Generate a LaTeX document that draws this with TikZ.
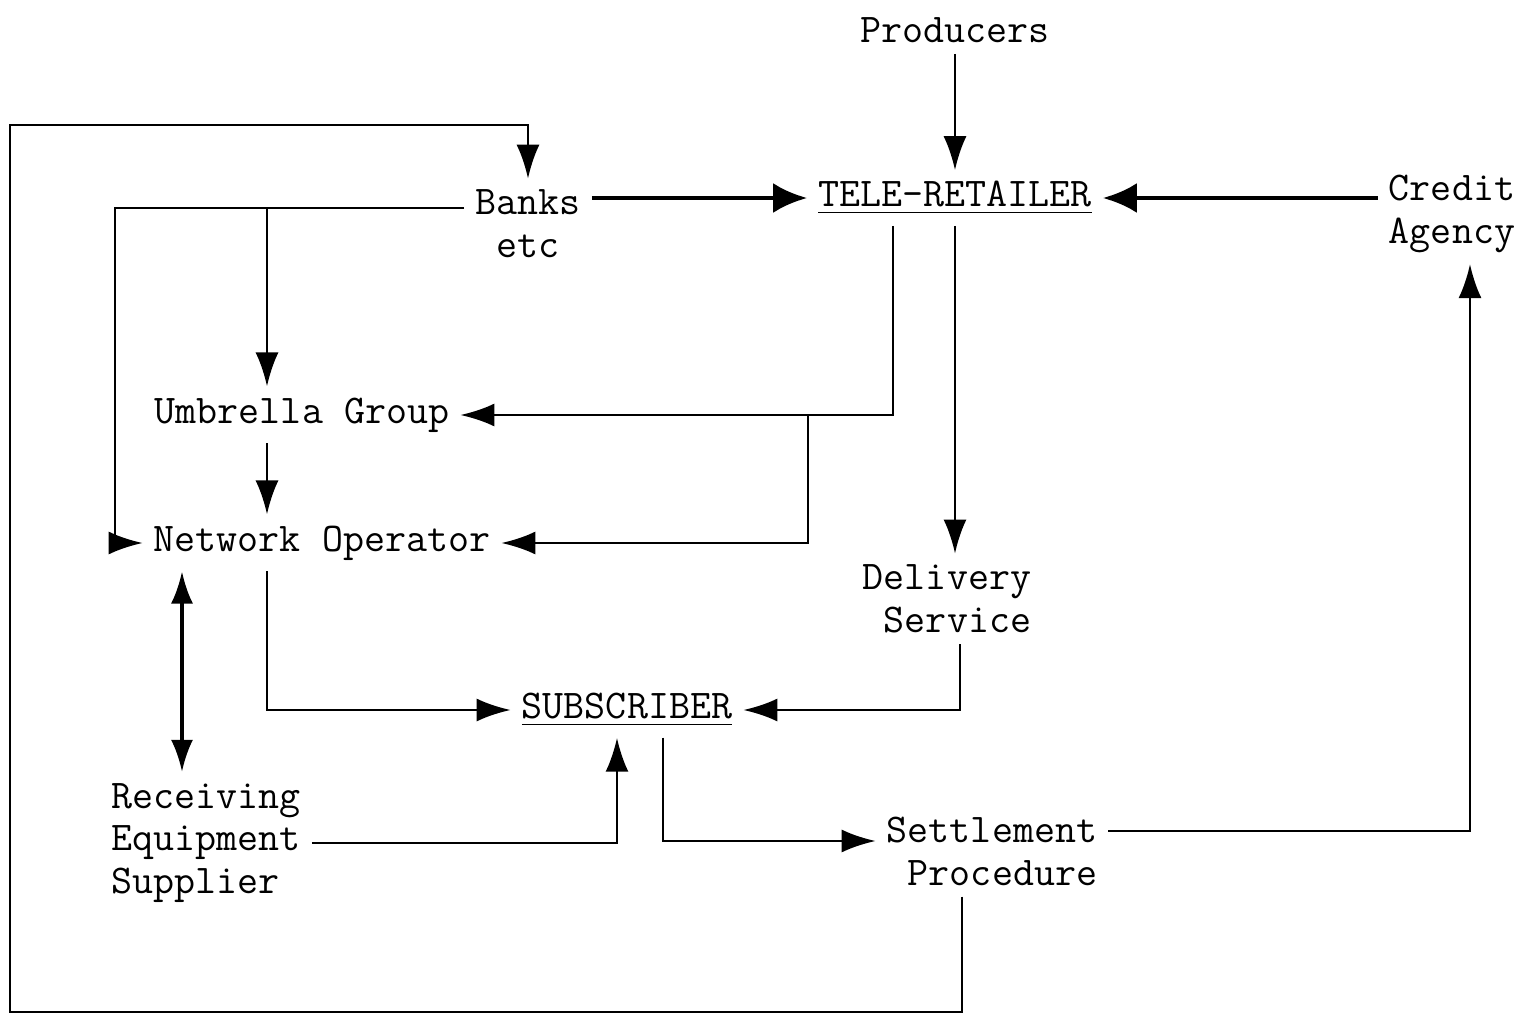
\documentclass[tikz,border=0pt]{standalone}
\usetikzlibrary{arrows.meta, positioning, calc}
\begin{document}
\begin{tikzpicture}[x=0.01cm, y=-0.01cm,
  lbl/.style={font=\ttfamily\fontsize{11.6}{12.2}\selectfont, inner sep=3pt, align=center},
  arr/.style={-{Latex[length=3.4mm,width=2.3mm]}, line width=0.8pt},
  arrthick/.style={-{Latex[length=3.4mm,width=3mm]}, line width=1.4pt},
  arrboth/.style={{Latex[length=3.2mm,width=2.2mm]}-{Latex[length=3.2mm,width=2.2mm]}, line width=1pt}
]
\useasboundingbox (0,0) rectangle (1532,1018);
\node[lbl] (prod)   at (955,30)   {Producers};
\node[lbl] (tele)   at (955,198)  {\underline{TELE-RETAILER}};
\node[lbl] (banks)  at (528,224)  {Banks\\etc};
\node[lbl] (credit) at (1452,214) {Credit\\Agency};
\node[lbl] (umb)    at (302,415)  {Umbrella Group};
\node[lbl] (net)    at (322,543)  {Network Operator};
\node[lbl, align=right] (deliv)  at (947,599) {Delivery\\Service};
\node[lbl] (sub)    at (627,710)  {\underline{SUBSCRIBER}};
\node[lbl, align=left]  (recv)   at (206,843) {Receiving\\Equipment\\Supplier};
\node[lbl, align=right] (settle) at (992,851) {Settlement\\Procedure};
% junction points
\coordinate (lbus)   at (115,208);
\coordinate (ubus)   at (267,208);
\coordinate (rbus)   at (893,0);
\coordinate (nbus)   at (808,0);
\coordinate (ebus)   at (182,0);
\coordinate (loopbl) at (10,1012);
\coordinate (looptl) at (10,125);
\draw[arr] (prod) -- (tele);
\draw[arrthick] (banks.east |- tele.west) -- (tele.west);
\draw[arrthick] (credit.west |- tele.east) -- (tele.east);
\draw[arr] ([xshift=-3mm]settle.south) |- (loopbl) -- (looptl) -| (banks.north);
\draw[arr] (banks.west |- lbus) -- (lbus) |- (net.west);
\draw[arr] (ubus) -- (ubus |- umb.north);
\draw[arr] (ubus |- umb.south) -- (ubus |- net.north);
\draw[arr] (tele.south -| rbus) |- (umb.east);
\draw[arr] (umb.east -| nbus) |- (net.east);
\draw[arr] (tele.south) -- (tele.south |- deliv.north);
\draw[arr] ([xshift=1.3mm]deliv.south) |- (sub.east);
\draw[arr] (ubus |- net.south) |- (sub.west);
\draw[arrboth] (ebus |- recv.north) -- (ebus |- net.south);
\draw[arr] (recv.east) -| ([xshift=-1mm]sub.south);
\draw[arr] ([xshift=3.6mm]sub.south) |- ([yshift=1mm]settle.west);
\draw[arr] ([yshift=2mm]settle.east) -| ([xshift=1.8mm]credit.south);
\end{tikzpicture}
\end{document}
